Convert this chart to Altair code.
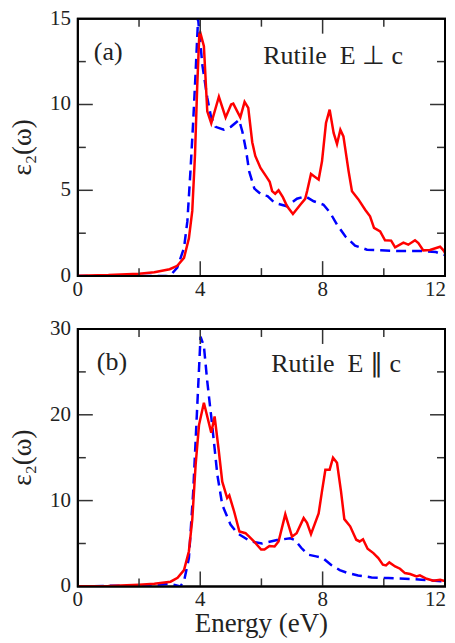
import altair as alt
import pandas as pd

# ---------------- data ----------------
# Panel (a): Rutile E ⊥ c
a_red_E = [0, 1, 2, 2.5, 3.0, 3.25, 3.47, 3.63, 3.74, 3.83, 3.9, 3.97, 4.0, 4.12, 4.23, 4.36,
           4.61, 4.83, 5.01, 5.08, 5.31, 5.45, 5.57, 5.7, 5.8, 5.97, 6.16, 6.27, 6.35, 6.45, 6.56,
           6.7, 6.84, 7.03, 7.27, 7.43, 7.5, 7.62, 7.87, 7.98, 8.11, 8.23, 8.36, 8.47, 8.58, 8.68,
           8.85, 8.96, 9.17, 9.39, 9.55, 9.68, 9.88, 10.04, 10.24, 10.37, 10.64, 10.8, 11.02,
           11.13, 11.29, 11.51, 11.84, 11.95, 12.0]
a_red_v = [0.02, 0.06, 0.14, 0.22, 0.4, 0.6, 1.06, 2.2, 3.8, 7.1, 11.0, 14.1, 14.2, 13.4, 9.6, 8.9,
           10.45, 9.25, 10.0, 10.05, 9.25, 10.15, 9.8, 7.8, 7.0, 6.3, 5.8, 5.5, 4.95, 4.8, 5.0,
           4.6, 4.07, 3.62, 4.16, 4.5, 5.0, 5.95, 5.62, 6.69, 8.92, 9.7, 8.34, 7.7, 8.53, 8.14,
           6.1, 4.94, 4.47, 3.87, 3.48, 2.81, 2.61, 2.09, 2.07, 1.68, 1.95, 1.83, 2.09,
           1.93, 1.5, 1.52, 1.71, 1.5, 1.35]
a_blue_E = [0, 2.9, 3.03, 3.25, 3.47, 3.58, 3.68, 3.77, 3.85, 3.93, 4.07, 4.23, 4.35, 4.5, 4.77,
            5.0, 5.27, 5.38, 5.5, 5.6, 5.77, 6.0, 6.2, 6.43, 6.84, 7.16, 7.44, 7.71, 8.03, 8.25,
            8.47, 8.74, 9.06, 9.45, 9.9, 10.5, 11.3, 11.7, 12.0]
a_blue_v = [0, 0, 0.05, 0.5, 1.64, 3.2, 6.1, 9.0, 11.9, 15.0, 12.3, 10.4, 9.3, 8.7, 8.53,
            8.7, 9.1, 8.4, 7.3, 6.1, 5.1, 4.75, 4.66, 4.27, 4.07, 4.51, 4.65, 4.36, 4.16, 3.68,
            3.0, 2.32, 1.78, 1.54, 1.5, 1.46, 1.46, 1.4, 1.22]

# Panel (b): Rutile E ∥ c
b_red_E = [0, 1, 2, 2.5, 3.03, 3.26, 3.47, 3.63, 3.74, 3.85, 3.96, 4.12, 4.36, 4.47, 4.6, 4.72,
           4.88, 4.95, 5.11, 5.28, 5.48, 5.6, 5.77, 5.99, 6.1, 6.26, 6.43, 6.56, 6.78, 7.0, 7.15,
           7.38, 7.49, 7.62, 7.87, 7.98, 8.09, 8.23, 8.34, 8.47, 8.6, 8.71, 8.9, 9.1, 9.21, 9.32,
           9.47, 9.66, 9.82, 9.97, 10.07, 10.18, 10.37, 10.53, 10.69, 10.86, 11.07, 11.18, 11.4,
           11.62, 11.84, 11.95, 12.0]
b_red_v = [0.02, 0.06, 0.2, 0.3, 0.55, 1.0, 1.9, 4.1, 7.8, 14.2, 18.8, 21.4, 17.9, 19.8, 16.0, 12.2,
           10.3, 10.6, 8.7, 6.4, 6.2, 5.8, 5.2, 4.3, 4.3, 4.7, 4.66, 5.24, 8.4, 5.8, 6.2,
           7.96, 7.4, 6.1, 8.5, 11.1, 13.6, 13.6, 15.0, 14.4, 11.1, 7.84, 7.0, 5.44, 5.24, 5.5,
           4.39, 3.88, 3.3, 2.53, 2.45, 2.8, 2.33, 2.06, 1.55, 1.44, 1.16, 1.28, 0.89,
           0.66, 0.78, 0.66, 0.7]
b_blue_E = [0, 2.5, 3.0, 3.2, 3.35, 3.47, 3.63, 3.77, 3.9, 4.01, 4.12, 4.23, 4.39, 4.56, 4.72,
            4.99, 5.21, 5.64, 6.02, 6.51, 6.94, 7.1, 7.3, 7.52, 7.79, 8.01, 8.28, 8.56, 8.83,
            9.16, 9.6, 10.14, 10.69, 11.23, 11.67, 12.0]
b_blue_v = [0.0, 0.15, 0.3, 0.15, 0.0, 0.6, 3.3, 11.0, 20.8, 29.1, 28.0, 23.9, 18.8, 13.0, 9.5,
            7.2, 6.2, 5.24, 5.0, 5.4, 5.6, 5.4, 4.5, 3.7, 3.5, 3.3, 2.5, 1.9, 1.55,
            1.28, 1.05, 0.97, 0.9, 0.78, 0.66, 0.58]

x_domain = [0, 12]
x_labels = [0, 4, 8, 12]
x_major = [4, 8]
x_minor = [2, 6, 10]
x_title = "Energy (eV)"
y_title = "\u03b5\u2082(\u03c9)"

a_ymax = 15
a_y_labels = [0, 5, 10, 15]
a_y_major = [5, 10]
a_y_minor = [2.5, 7.5, 12.5]

b_ymax = 30
b_y_labels = [0, 10, 20, 30]
b_y_major = [10, 20]
b_y_minor = [5, 15, 25]

a_tag = ["(a)"]
a_tag_pos = [(0.52, 12.6)]
a_note = ["Rutile\u00a0\u00a0E \u22a5 c"]
a_note_pos = [(6.06, 12.38)]
b_tag = ["(b)"]
b_tag_pos = [(0.62, 25.2)]
b_note = ["Rutile\u00a0\u00a0E \u2225 c"]
b_note_pos = [(6.32, 25.0)]

# ---------------- styling ----------------
W, H = 368, 258
MAJ, MIN = 15, 8          # tick lengths in pixels
FONT = "Liberation Serif"
TICK_COLOR = "#333333"
TXT = "#222222"


def lab(v):
    return str(int(v)) if float(v).is_integer() else str(v)


def panel(rE, rv, bE, bv, ymax, ylabels, ymaj, ymin, tag, tag_pos, note, note_pos, show_xtitle):
    xs = alt.Scale(domain=x_domain, nice=False, zero=False)
    ys = alt.Scale(domain=[0, ymax], nice=False, zero=False)

    def X(f):
        return alt.X(f, scale=xs, axis=None)

    def Y(f):
        return alt.Y(f, scale=ys, axis=None)

    blue = alt.Chart(pd.DataFrame({"E": bE, "v": bv})).mark_line(
        color="#0000ff", strokeWidth=2.5, strokeDash=[10, 6], clip=True
    ).encode(x=X("E:Q"), y=Y("v:Q"))
    red = alt.Chart(pd.DataFrame({"E": rE, "v": rv})).mark_line(
        color="#ff0000", strokeWidth=2.5, clip=True
    ).encode(x=X("E:Q"), y=Y("v:Q"))

    layers = [blue, red]

    # inward ticks on all four sides
    for vals, ln in ((x_major, MAJ), (x_minor, MIN)):
        base = alt.Chart(pd.DataFrame({"t": vals})).mark_rule(color=TICK_COLOR, strokeWidth=1.5)
        layers.append(base.encode(x=X("t:Q"), y=alt.value(H), y2=alt.value(H - ln)))
        layers.append(base.encode(x=X("t:Q"), y=alt.value(0), y2=alt.value(ln)))
    for vals, ln in ((ymaj, MAJ), (ymin, MIN)):
        base = alt.Chart(pd.DataFrame({"t": vals})).mark_rule(color=TICK_COLOR, strokeWidth=1.5)
        layers.append(base.encode(y=Y("t:Q"), x=alt.value(0), x2=alt.value(ln)))
        layers.append(base.encode(y=Y("t:Q"), x=alt.value(W), x2=alt.value(W - ln)))

    # frame
    fdf = pd.DataFrame({"x0": [x_domain[0]], "x1": [x_domain[1]], "y0": [0], "y1": [ymax]})
    layers.append(alt.Chart(fdf).mark_rect(filled=False, stroke="black", strokeWidth=2).encode(
        x=X("x0:Q"), x2="x1:Q", y=Y("y0:Q"), y2="y1:Q"))

    # tick labels
    txt = dict(font=FONT, color=TXT)
    xl = pd.DataFrame({"t": x_labels[:-1], "lab": [lab(v) for v in x_labels[:-1]]})
    layers.append(alt.Chart(xl).mark_text(fontSize=21, align="center", baseline="top", **txt)
                  .encode(x=X("t:Q"), y=alt.value(H + 3), text="lab:N"))
    xr = pd.DataFrame({"t": x_labels[-1:], "lab": [lab(v) for v in x_labels[-1:]]})
    layers.append(alt.Chart(xr).mark_text(fontSize=21, align="right", baseline="top", dx=1,
                                          **txt)
                  .encode(x=X("t:Q"), y=alt.value(H + 3), text="lab:N"))
    yl = pd.DataFrame({"t": ylabels, "lab": [lab(v) for v in ylabels]})
    layers.append(alt.Chart(yl).mark_text(fontSize=21, align="right", baseline="middle", **txt)
                  .encode(y=Y("t:Q"), x=alt.value(-7), text="lab:N"))

    # axis titles
    layers.append(alt.Chart(pd.DataFrame({"lab": [y_title]})).mark_text(
        fontSize=27, angle=270, align="center", baseline="middle", **txt
    ).encode(x=alt.value(-55), y=alt.value(H / 2), text="lab:N"))
    if show_xtitle:
        layers.append(alt.Chart(pd.DataFrame({"lab": [x_title]})).mark_text(
            fontSize=27, align="center", baseline="alphabetic", **txt
        ).encode(x=alt.value(W / 2), y=alt.value(H + 46), text="lab:N"))

    # panel annotations
    for txts, pos in ((tag, tag_pos), (note, note_pos)):
        df = pd.DataFrame({"txt": txts, "px": [p[0] for p in pos], "py": [p[1] for p in pos]})
        layers.append(alt.Chart(df).mark_text(fontSize=26, align="left", baseline="alphabetic",
                                              **txt)
                      .encode(x=X("px:Q"), y=Y("py:Q"), text="txt:N"))

    return alt.layer(*layers).properties(width=W, height=H)


top = panel(a_red_E, a_red_v, a_blue_E, a_blue_v, a_ymax, a_y_labels, a_y_major, a_y_minor,
            a_tag, a_tag_pos, a_note, a_note_pos, False)
bottom = panel(b_red_E, b_red_v, b_blue_E, b_blue_v, b_ymax, b_y_labels, b_y_major, b_y_minor,
               b_tag, b_tag_pos, b_note, b_note_pos, True)

chart = alt.vconcat(top, bottom, spacing=16).properties(
    padding={"left": 0, "top": -2, "right": 0, "bottom": 0}
).configure_view(stroke="black", strokeWidth=2)

chart.save("out.html", embed_options={"renderer": "svg", "actions": False})
